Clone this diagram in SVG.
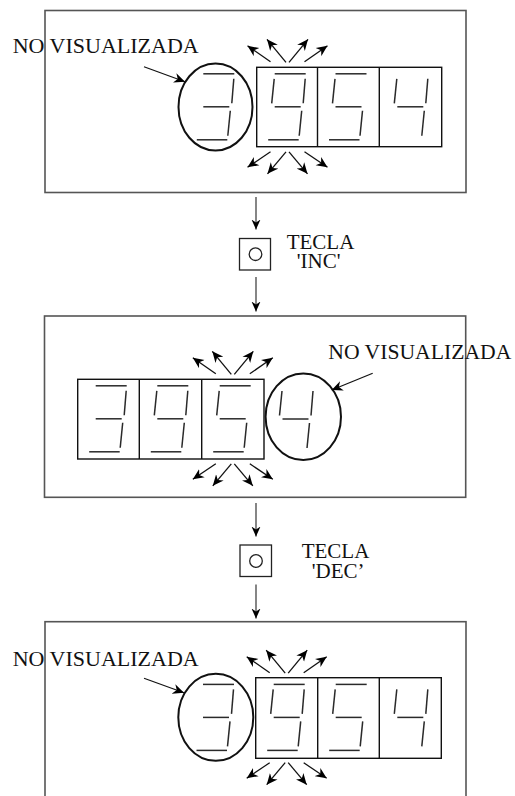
<svg xmlns="http://www.w3.org/2000/svg" xmlns:xlink="http://www.w3.org/1999/xlink" width="515" height="796" viewBox="0 0 515 796">
  <style>
    .panel { fill: #ffffff; stroke: #555555; stroke-width: 1.6; }
    .dbox { fill: none; stroke: #111111; stroke-width: 1.4; }
    .seg { fill: none; stroke: #2a2a2a; stroke-width: 1.5; stroke-linecap: butt; }
    .ring { fill: none; stroke: #111111; stroke-width: 2; }
    .ray { fill: none; stroke: #111111; stroke-width: 1.3; marker-end: url(#head); }
    .flow { fill: none; stroke: #444444; stroke-width: 1.3; marker-end: url(#headS); }
    .ptr { fill: none; stroke: #111111; stroke-width: 1.2; marker-end: url(#head); }
    .key { fill: #ffffff; stroke: #222222; stroke-width: 1.3; }
    .lbl { font-family: "Liberation Serif", "Times New Roman", serif; fill: #111111; }
    .big { font-size: 22px; }
    .mid { font-size: 21px; }
  </style>
  <defs>
    <marker id="head" markerUnits="userSpaceOnUse" viewBox="0 -5 10 10" refX="10" refY="0" markerWidth="11" markerHeight="11" orient="auto">
      <path d="M0,-4.5 L10,0 L0,4.5 L3,0 Z" fill="#000000"/>
    </marker>
    <marker id="headS" markerUnits="userSpaceOnUse" viewBox="0 -5 10 10" refX="10" refY="0" markerWidth="10" markerHeight="10" orient="auto">
      <path d="M0,-4.5 L10,0 L0,4.5 L3,0 Z" fill="#000000"/>
    </marker>
    <!-- seven-segment digits, local box 62 x 79.5 -->
    <g id="d3" class="seg">
      <path d="M18,6.5 H49"/>
      <path d="M48.5,11.5 L46.5,36"/>
      <path d="M18,39.5 H44"/>
      <path d="M45,43.5 L42.5,68.5"/>
      <path d="M11.5,72.5 H42"/>
    </g>
    <g id="d9" class="seg">
      <path d="M18,6.5 H49"/>
      <path d="M17.5,11.5 L15,36"/>
      <path d="M48.5,11.5 L46.5,36"/>
      <path d="M18,39.5 H44"/>
      <path d="M45,43.5 L42.5,68.5"/>
      <path d="M11.5,72.5 H42"/>
    </g>
    <g id="d5" class="seg">
      <path d="M18,6.5 H49"/>
      <path d="M17.5,11.5 L15,36"/>
      <path d="M18,39.5 H44"/>
      <path d="M45,43.5 L42.5,68.5"/>
      <path d="M11.5,72.5 H42"/>
    </g>
    <g id="d4" class="seg">
      <path d="M17.5,11.5 L15,36"/>
      <path d="M48.5,11.5 L46.5,36"/>
      <path d="M18,39.5 H44"/>
      <path d="M45,43.5 L42.5,68.5"/>
    </g>
    <!-- blinking rays around a digit: origin = (centre x, box top), box height 79.5 -->
    <g id="burst">
      <path class="ray" d="M-17,-5.5 L-40,-21.5"/>
      <path class="ray" d="M-1.5,-5 L-20.5,-28"/>
      <path class="ray" d="M1.5,-5 L20.5,-28"/>
      <path class="ray" d="M17,-5.5 L40,-21.5"/>
      <path class="ray" d="M-17,84.5 L-40,100"/>
      <path class="ray" d="M-1.5,84.5 L-20,106.5"/>
      <path class="ray" d="M1.5,84.5 L20,106.5"/>
      <path class="ray" d="M17,84.5 L40,100"/>
    </g>
  </defs>

  <!-- ===== Panel 1 ===== -->
  <g id="panel1">
    <rect class="panel" x="45" y="10.5" width="421" height="182"/>
    <text class="lbl big" x="12.7" y="53.3" textLength="186" lengthAdjust="spacing">NO VISUALIZADA</text>
    <ellipse class="ring" cx="215.5" cy="107" rx="37" ry="43.5"/>
    <use xlink:href="#d3" x="185.3" y="67.3"/>
    <rect class="dbox" x="256.7" y="67.3" width="185" height="79.4"/>
    <line class="dbox" x1="317.5" y1="67.3" x2="317.5" y2="146.7"/>
    <line class="dbox" x1="379.3" y1="67.3" x2="379.3" y2="146.7"/>
    <use xlink:href="#d9" x="256.7" y="67.3"/>
    <use xlink:href="#d5" x="317.5" y="67.3"/>
    <use xlink:href="#d4" x="379.3" y="67.3"/>
    <use xlink:href="#burst" x="287.5" y="67.3"/>
    <path class="ptr" d="M144,66.7 L185,81.7"/>
  </g>

  <!-- ===== Key INC ===== -->
  <g id="keyInc">
    <rect class="key" x="239.5" y="238.5" width="31" height="31.5"/>
    <circle class="key" cx="255.5" cy="254.2" r="6.3"/>
    <text class="lbl mid" x="286.7" y="248.5">TECLA</text>
    <text class="lbl mid" x="296.7" y="268">'INC'</text>
  </g>

  <!-- ===== Panel 2 ===== -->
  <g id="panel2">
    <rect class="panel" x="44.5" y="316" width="421.2" height="181.3"/>
    <text class="lbl big" x="328.3" y="359" textLength="183" lengthAdjust="spacingAndGlyphs">NO VISUALIZADA</text>
    <rect class="dbox" x="77.7" y="379.3" width="186.3" height="79.7"/>
    <line class="dbox" x1="139.3" y1="379.3" x2="139.3" y2="459"/>
    <line class="dbox" x1="201.7" y1="379.3" x2="201.7" y2="459"/>
    <use xlink:href="#d3" x="77.7" y="379.3"/>
    <use xlink:href="#d9" x="139.3" y="379.3"/>
    <use xlink:href="#d5" x="201.7" y="379.3"/>
    <ellipse class="ring" cx="303.3" cy="416.7" rx="37.7" ry="43.3"/>
    <use xlink:href="#d4" x="264.5" y="379.5"/>
    <use xlink:href="#burst" x="232.8" y="379.3"/>
    <path class="ptr" d="M372.7,373.3 L331.7,390"/>
  </g>

  <!-- ===== Key DEC ===== -->
  <g id="keyDec">
    <rect class="key" x="240" y="545" width="31.5" height="31.5"/>
    <circle class="key" cx="256" cy="561" r="6.3"/>
    <text class="lbl mid" x="301.7" y="558">TECLA</text>
    <text class="lbl mid" x="311.7" y="577.5">'DEC’</text>
  </g>

  <!-- ===== Panel 3 ===== -->
  <g id="panel3">
    <rect class="panel" x="45" y="621.7" width="421" height="200"/>
    <text class="lbl big" x="12.7" y="665.5" textLength="186" lengthAdjust="spacing">NO VISUALIZADA</text>
    <ellipse class="ring" cx="215.8" cy="717.3" rx="37.5" ry="43.5"/>
    <use xlink:href="#d3" x="185" y="677.9"/>
    <rect class="dbox" x="255.7" y="677.7" width="185.6" height="80.6"/>
    <line class="dbox" x1="317.7" y1="677.7" x2="317.7" y2="758.3"/>
    <line class="dbox" x1="379.3" y1="677.7" x2="379.3" y2="758.3"/>
    <use xlink:href="#d9" x="255.7" y="677.9"/>
    <use xlink:href="#d5" x="317.7" y="677.9"/>
    <use xlink:href="#d4" x="379.3" y="677.9"/>
    <use xlink:href="#burst" x="286.7" y="678.2"/>
    <path class="ptr" d="M144,678.3 L184,692.7"/>
  </g>

  <!-- ===== Connectors ===== -->
  <g id="connectors">
    <path class="flow" d="M256,197 L256,229.5"/>
    <path class="flow" d="M256,277 L256,311.5"/>
    <path class="flow" d="M256,503 L256,536.5"/>
    <path class="flow" d="M256,584.5 L256,618.5"/>
  </g>
</svg>
